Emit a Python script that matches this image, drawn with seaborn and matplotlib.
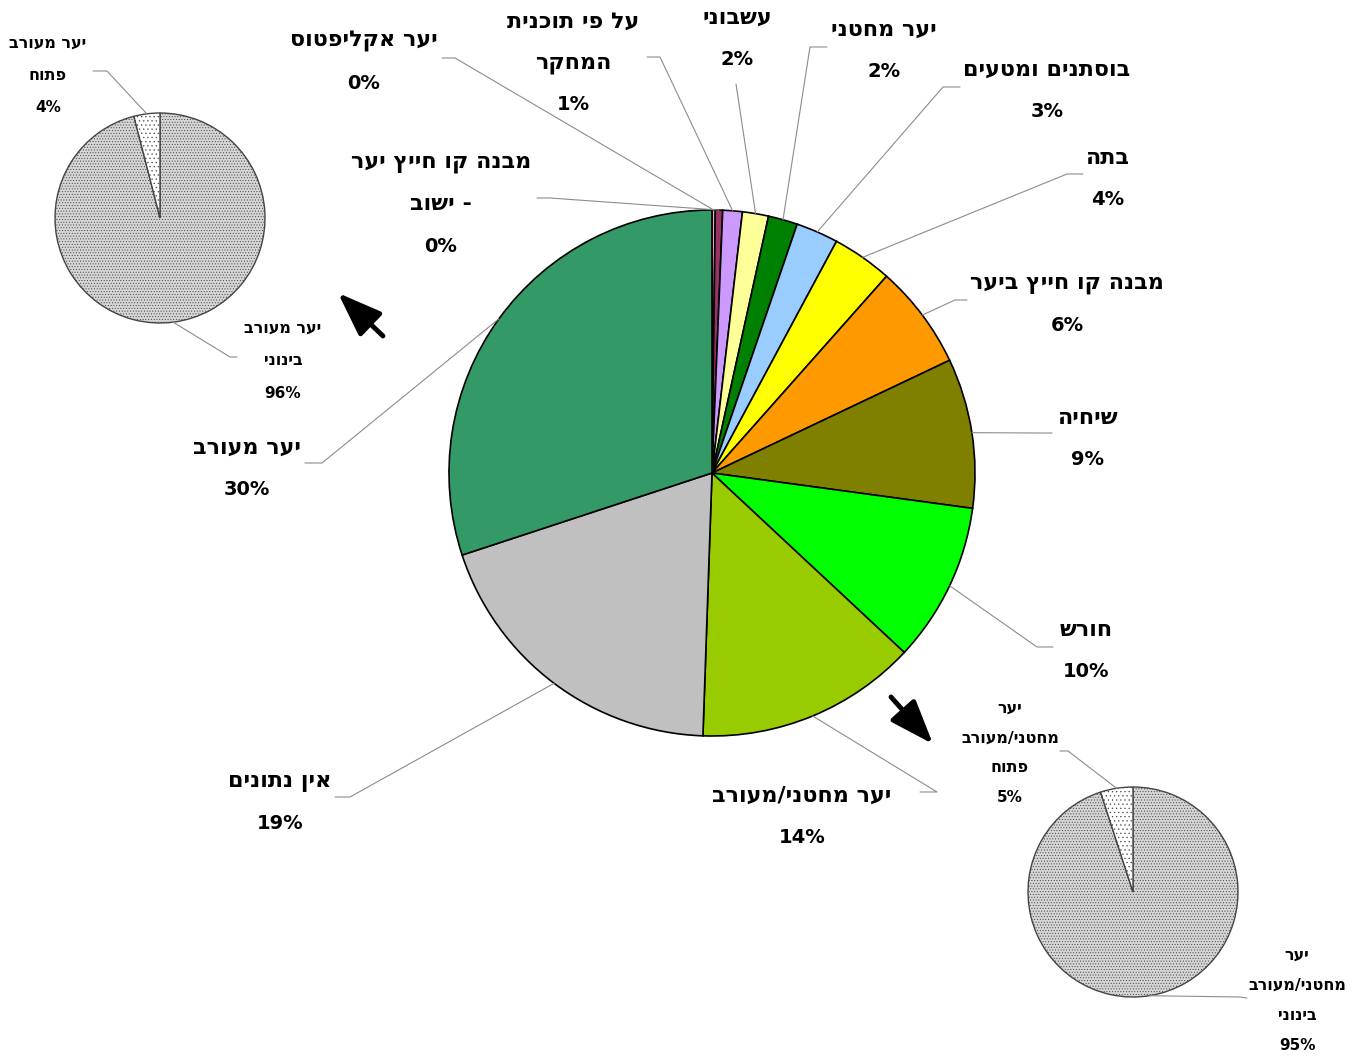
import matplotlib
matplotlib.use("Agg")
import numpy as np
import matplotlib.pyplot as plt
import seaborn as sns

W, H = 1363, 1057

# main pie: land cover shares (%), clockwise from 12 o'clock
categories = ["יער אקליפטוס", "מבנה קו חייץ יער\n- ישוב", "על פי תוכנית\nהמחקר", "עשבוני",
              "יער מחטני", "בוסתנים ומטעים", "בתה", "מבנה קו חייץ ביער", "שיחיה", "חורש",
              "יער מחטני/מעורב", "אין נתונים", "יער מעורב"]
shares = [0.2, 0.45, 1.2, 1.6, 1.8, 2.6, 3.7, 6.4, 9.2, 9.8, 13.6, 19.4, 30.05]
slice_colors = ["#FF99CC", "#993366", "#CC99FF", "#FFFF99", "#008000", "#99CCFF", "#FFFF00",
                "#FF9900", "#808000", "#00FF00", "#99CC00", "#C0C0C0", "#339966"]

# breakdown of mixed forest (top left) and conifer/mixed forest (bottom right)
mixed_names = ["יער מעורב\nבינוני", "יער מעורב\nפתוח"]
mixed_shares = [96, 4]
conifer_names = ["יער\nמחטני/מעורב\nבינוני", "יער\nמחטני/מעורב\nפתוח"]
conifer_shares = [95, 5]

# layout (pixels from top-left)
main_label_xy = [(364, 42), (441, 163), (573, 22), (737, 18), (884, 30), (1047, 70),
                 (1108, 158), (1067, 284), (1088, 418), (1086, 630), (802, 796),
                 (280, 782), (247, 448)]
main_leader = [((455, 58), (442, 58)), ((550, 198), (537, 198)), ((660, 57), (647, 57)),
               ((736, 84), (736, 84)), ((810, 47), (827, 47)), ((943, 87), (960, 87)),
               ((1067, 174), (1083, 174)), ((955, 300), (967, 300)), ((1040, 433), (1052, 433)),
               ((1037, 647), (1053, 647)), ((937, 792), (920, 792)), ((350, 797), (335, 797)),
               ((322, 463), (305, 463))]
mixed_label_xy = [(283, 328), (48, 43)]
mixed_leader = [((230, 357), (237, 357)), ((107, 71), (93, 71))]
conifer_label_xy = [(1297, 955), (1010, 708)]
conifer_leader = [((1240, 997), (1247, 998)), ((1068, 751), (1060, 751))]

sns.set_theme(style="white")
plt.rcParams['font.family'] = ['DejaVu Sans']
plt.rcParams['hatch.linewidth'] = 0.4


def Y(py):
    return H - py


def rtl(s):
    # matplotlib draws left-to-right, so flip the line for right-to-left reading
    return s[::-1]


fig = plt.figure(figsize=(W / 100, H / 100), dpi=100)
ax = fig.add_axes([0, 0, 1, 1])


def draw_pie(vals, colors, cx, cy, r, edge, lw, hatches=None):
    wedges, _ = ax.pie(vals, colors=colors, startangle=90, counterclock=False,
                       center=(cx, Y(cy)), radius=r,
                       wedgeprops=dict(edgecolor=edge, linewidth=lw))
    if hatches:
        for w, h in zip(wedges, hatches):
            w.set_hatch(h)
    return wedges


def leader(w, cx, cy, r, elbow, end):
    t = np.deg2rad((w.theta1 + w.theta2) / 2)
    px, py = cx + r * np.cos(t), Y(cy) + r * np.sin(t)
    ax.plot([px, elbow[0], end[0]], [py, Y(elbow[1]), Y(end[1])],
            color="#8c8c8c", lw=0.8, zorder=1)


def label(x, y, name, pct, size, psize, step, weight="bold"):
    lines = name.split("\n")
    for i, ln in enumerate(lines):
        ax.text(x, Y(y + i * step), rtl(ln), ha="center", va="center",
                fontsize=size, fontweight=weight, color="black")
    ax.text(x, Y(y + len(lines) * step), pct, ha="center", va="center",
            fontsize=psize, fontweight="bold", color="black")


# main pie
MX, MY, MR = 712, 473, 263
wedges = draw_pie(shares, slice_colors, MX, MY, MR, "black", 1.2)
for w, name, v, (lx, ly), (el, en) in zip(wedges, categories, shares, main_label_xy, main_leader):
    leader(w, MX, MY, MR, el, en)
    label(lx, ly, name, f"{round(v)}%", 16, 14, 41.5)

# mixed forest breakdown
SX, SY, SR = 160, 218, 105
sw = draw_pie(mixed_shares, ["#d6d6d6", "#ffffff"], SX, SY, SR, "#444444", 1.0, ["......", "...."])
for w, name, v, (lx, ly), (el, en) in zip(sw, mixed_names, mixed_shares, mixed_label_xy, mixed_leader):
    leader(w, SX, SY, SR, el, en)
    label(lx, ly, name, f"{v}%", 11.5, 11, 32.5)

# conifer/mixed forest breakdown
BX, BY, BR = 1133, 892, 105
bw = draw_pie(conifer_shares, ["#d6d6d6", "#ffffff"], BX, BY, BR, "#444444", 1.0, ["......", "...."])
for w, name, v, (lx, ly), (el, en) in zip(bw, conifer_names, conifer_shares, conifer_label_xy, conifer_leader):
    leader(w, BX, BY, BR, el, en)
    label(lx, ly, name, f"{v}%", 11.5, 11, 30)

# arrows pointing to the breakdown pies
arrow = dict(arrowstyle="-|>,head_length=1.35,head_width=0.5", lw=3.5, color="black",
             mutation_scale=20, shrinkA=0, shrinkB=0)
ax.annotate("", xy=(338, Y(293)), xytext=(383, Y(336)), arrowprops=arrow)
ax.annotate("", xy=(933, Y(744)), xytext=(891, Y(697)), arrowprops=arrow)

ax.set_xlim(0, W)
ax.set_ylim(0, H)
ax.set_aspect("equal")
ax.axis("off")

fig.savefig("out.png", dpi=100, facecolor="white")
